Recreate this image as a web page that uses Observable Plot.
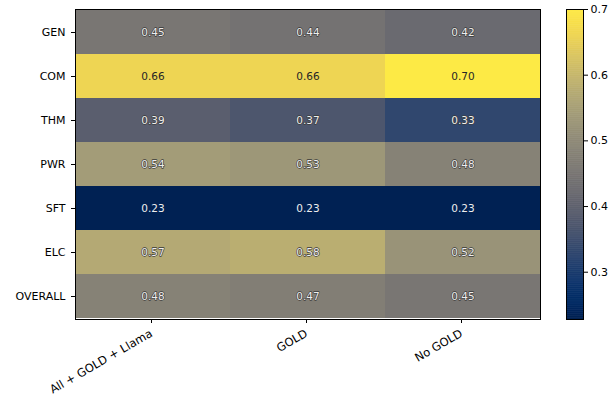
<!DOCTYPE html>
<html>
<head>
<meta charset="utf-8">
<script src="https://cdn.jsdelivr.net/npm/d3@7"></script>
<script src="https://cdn.jsdelivr.net/npm/@observablehq/plot@0.6"></script>
<style>
  html, body { margin: 0; padding: 0; background: white; }
  #wrap { position: relative; width: 611px; height: 396px; font-family: "DejaVu Sans", sans-serif; }
  #main { position: absolute; left: 0; top: 0; }
  #bar { position: absolute; left: 550px; top: 0; }
</style>
</head>
<body>
<div id="wrap"><div id="main"></div><div id="bar"></div></div>
<script>
const rows = ["GEN", "COM", "THM", "PWR", "SFT", "ELC", "OVERALL"];
const columns = ["All + GOLD + Llama", "GOLD", "No GOLD"];
const allGoldLlama = [0.45, 0.66, 0.39, 0.54, 0.23, 0.57, 0.48];
const goldOnly     = [0.44, 0.66, 0.37, 0.53, 0.23, 0.58, 0.47];
const noGold       = [0.42, 0.70, 0.33, 0.48, 0.23, 0.52, 0.45];
const colorbarTicks = [0.3, 0.4, 0.5, 0.6, 0.7];
const colorDomain = [0.228, 0.70];

const series = [allGoldLlama, goldOnly, noGold];
const table = [];
columns.forEach((c, j) => rows.forEach((r, i) => table.push({col: c, row: r, value: series[j][i]})));

const font = "DejaVu Sans, sans-serif";

const main = Plot.plot({
  width: 550,
  height: 396,
  marginLeft: 75,
  marginRight: 10,
  marginTop: 9,
  marginBottom: 77,
  style: {fontFamily: font, fontSize: "11px", color: "black", background: "white"},
  x: {domain: columns, padding: 0, label: null, axis: null},
  y: {domain: rows, padding: 0, label: null, axis: null},
  color: {type: "linear", scheme: "cividis", domain: colorDomain},
  marks: [
    Plot.cell(table, {x: "col", y: "row", fill: "value"}),
    Plot.text(table, {
      x: "col", y: "row",
      text: d => d.value.toFixed(2),
      fill: d => d.value > 0.6 ? "#262626" : "#eeeeee",
      stroke: d => d.value > 0.6 || d.value < 0.3 ? "none" : "#3a3a3a",
      strokeWidth: 1.3,
      fontSize: 10.5
    }),
    Plot.frame({stroke: "black", strokeWidth: 1}),
    Plot.axisY({tickSize: 4, tickPadding: 6, label: null, fontSize: 11}),
    Plot.axisX({tickSize: 4, tickRotate: -30, tickPadding: 9, dx: -1.5, label: null, fontSize: 11.5})
  ]
});
document.getElementById("main").append(main);

const step = 0.001;
const ramp = d3.range(colorDomain[0], colorDomain[1], step);
const bar = Plot.plot({
  width: 61,
  height: 396,
  marginLeft: 16,
  marginRight: 28,
  marginTop: 9,
  marginBottom: 77,
  style: {fontFamily: font, fontSize: "11px", color: "black", background: "white"},
  y: {domain: colorDomain, axis: "right", ticks: colorbarTicks, tickFormat: d3.format(".1f"), label: null, tickSize: 4, tickPadding: 3},
  color: {type: "linear", scheme: "cividis", domain: colorDomain},
  marks: [
    Plot.rect(ramp, {y1: d => d, y2: d => Math.min(d + step * 1.8, colorDomain[1]), fill: d => d}),
    Plot.frame({stroke: "black", strokeWidth: 1})
  ]
});
document.getElementById("bar").append(bar);
</script>
</body>
</html>
